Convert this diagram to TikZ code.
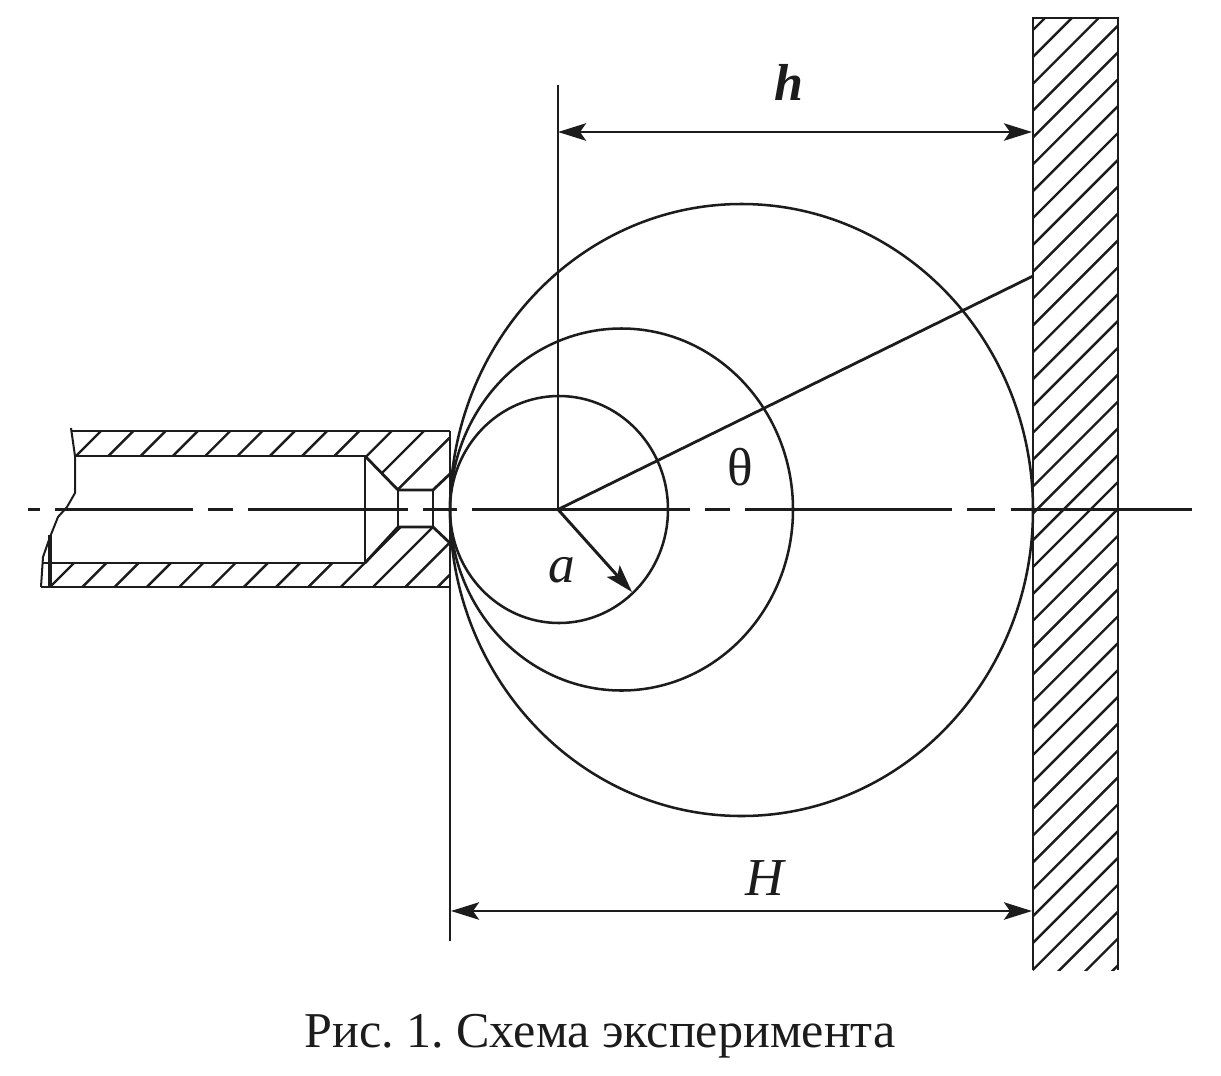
\documentclass[tikz,border=0pt]{standalone}
\usepackage{fontspec}
\setmainfont{Liberation Serif}
\usetikzlibrary{arrows.meta}
\definecolor{ink}{HTML}{1C1C1C}
\tikzset{
  lin/.style={draw=ink,line width=2.1pt},
  thn/.style={draw=ink,line width=1.9pt},
  hatchline/.style={draw=ink,line width=1.8pt},
  dim/.style={draw=ink,line width=2.2pt,{Stealth[length=21pt,width=13pt,inset=4.5pt]}-{Stealth[length=21pt,width=13pt,inset=4.5pt]}},
  rad/.style={draw=ink,line width=2.2pt,-{Stealth[length=21pt,width=13pt,inset=4.5pt]}},
  lbl/.style={text=ink,inner sep=0pt,font=\fontsize{40}{44}\selectfont\itshape},
}
\begin{document}
\begin{tikzpicture}[x=0.75pt,y=-0.75pt]
\useasboundingbox (0,0) rectangle (1221,1075);
% key points
\coordinate (O) at (558,509.5);
\coordinate (hR) at (1032,132);
\coordinate (hL) at (558,132);
\coordinate (HR) at (1032,911);
\coordinate (HL) at (451,911);
\coordinate (aE) at (632,592);
\coordinate (thE) at (1033,276);
\coordinate (vT) at (558,85);
\coordinate (wT) at (450,431);
\coordinate (wB) at (450,941);
% hatching: wall
\begin{scope}
\clip (1033,18) rectangle (1118,970);
\foreach \k in {0,...,38} {
  \pgfmathsetmacro{\c}{1063+26.85*\k}
  \draw[hatchline] (\c-1000,1000) -- (\c,0);
}
\end{scope}
% hatching: upper nozzle wall
\begin{scope}
\clip (73,431) -- (450,431) -- (450,472) -- (433,490) -- (398,490) -- (365,456) -- (75,456) -- cycle;
\foreach \k in {0,...,11} {
  \pgfmathsetmacro{\c}{532+32.3*\k}
  \draw[hatchline] (\c-500,500) -- (\c,0);
}
\end{scope}
% hatching: lower nozzle wall
\begin{scope}
\clip (50,563) -- (365,563) -- (398,527) -- (433,527) -- (450,543) -- (450,587) -- (50,587) -- cycle;
\foreach \k in {0,...,12} {
  \pgfmathsetmacro{\c}{637+32.3*\k}
  \draw[hatchline] (\c-600,600) -- (\c,0);
}
\end{scope}
% wall outline
\draw[lin] (1033,970) -- (1033,18) -- (1118,18) -- (1118,970);
% nozzle outline
\draw[lin] (72,431) -- (450,431);
\draw[lin] (75,456) -- (365,456) -- (365,563) -- (42,563);
\draw[lin] (41,587) -- (450,587);
\draw[lin] (365,456) -- (398,490) -- (433,490) -- (452,472);
\draw[lin] (365,563) -- (398,527) -- (433,527) -- (452,545);
\draw[lin] (398,490) -- (398,527);
\draw[lin] (433,490) -- (433,527);
\draw[draw=ink,line width=1.5pt] (71,428) -- (75,456) -- (75,493) -- (67,507) -- (58,517) -- (50,537) -- (43,557) -- (41,587);
\draw[draw=ink,line width=2.6pt] (50,535) -- (50,588);
% tangent vertical
\draw[lin] (wT) -- (wB);
% circles (slightly stretched vertically, as in the source)
\draw[thn] (559,509.5) ellipse [x radius=109, y radius=113.5];
\draw[thn] (621.5,509.5) ellipse [x radius=171.5, y radius=181];
\draw[thn] (741.5,510) ellipse [x radius=291.5, y radius=306];
% centre line
\foreach \a/\b in {28/40,55/193,208/233,248/408,423/457,472/690,705/730,745/952,967/995,1011/1192}
  \draw[lin] (\a,509.5) -- (\b,509.5);
% construction lines
\draw[lin] (vT) -- (O);
\draw[lin] (O) -- (thE);
\draw[rad] (O) -- (aE);
\draw[dim] (hL) -- (hR);
\draw[dim] (HL) -- (HR);
% labels
\node[lbl,font=\fontsize{39}{44}\selectfont\itshape\bfseries] (lh) at (789,82) {h};
\node[lbl] (lH) at (765,878) {H};
\node[lbl] (la) at (562,570) {a};
\node[lbl,font=\fontsize{40}{44}\selectfont] (lt) at (740,467) {θ};
\node[text=ink,inner sep=0pt,font=\fontsize{37.6}{42}\selectfont] (cap) at (600,1036) {\frenchspacing Рис. 1. Схема эксперимента};
\end{tikzpicture}
\end{document}
